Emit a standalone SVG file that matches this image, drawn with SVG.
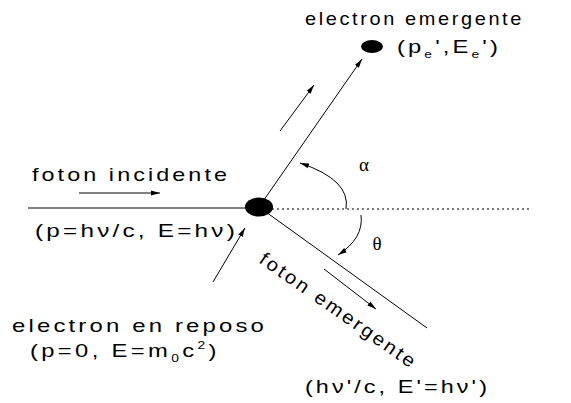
<svg xmlns="http://www.w3.org/2000/svg" width="571" height="403" viewBox="0 0 571 403">
<style>
text{font-family:"Liberation Sans",Arial,sans-serif;font-size:19px;fill:#000}
.sp{letter-spacing:2.5px}
.sym{font-family:"Liberation Serif","DejaVu Serif",serif;font-size:19px}
.ln{stroke:#000;stroke-width:1;fill:none}
.dot{stroke:#000;stroke-width:1;fill:none;stroke-dasharray:2 3}
</style>
<defs>
<marker id="ah" markerUnits="userSpaceOnUse" markerWidth="10" markerHeight="6" refX="9" refY="3" orient="auto">
<path d="M0,0.5 L9,3 L0,5.5 Z" fill="#000"/>
</marker>
</defs>
<rect width="571" height="403" fill="#fff"/>
<g id="connectors">
<line class="ln" x1="28" y1="208" x2="259" y2="208"/>
<line class="dot" x1="272" y1="209" x2="530" y2="209"/>
<line class="ln" x1="259" y1="207" x2="362" y2="59" marker-end="url(#ah)"/>
<line class="ln" x1="259" y1="207" x2="427" y2="328"/>
<line class="ln" x1="79" y1="193" x2="160" y2="193" marker-end="url(#ah)"/>
<line class="ln" x1="280" y1="131" x2="314" y2="85" marker-end="url(#ah)"/>
<line class="ln" x1="213" y1="282" x2="245" y2="228" marker-end="url(#ah)"/>
<line class="ln" x1="324" y1="269" x2="376" y2="309" marker-end="url(#ah)"/>
<path class="ln" d="M346,209 Q351,180 300,163" marker-end="url(#ah)"/>
<path class="ln" d="M361,215 Q364,238 338,255" marker-end="url(#ah)"/>
</g>
<g id="electron-rest">
<ellipse cx="259" cy="207" rx="14" ry="9.5" fill="#000"/>
</g>
<g id="electron-out">
<ellipse cx="372" cy="46.5" rx="11" ry="6.5" fill="#000"/>
</g>
<g id="labels">
<text class="sp" x="305" y="25" textLength="219" lengthAdjust="spacingAndGlyphs">electron emergente</text>
<text class="sp" transform="translate(397,53) scale(1.25,1)" x="0" y="0">(p<tspan font-size="11" dy="5">e</tspan><tspan dy="-5">',E</tspan><tspan font-size="11" dy="5">e</tspan><tspan dy="-5">')</tspan></text>
<text class="sp" x="32" y="181" textLength="198" lengthAdjust="spacingAndGlyphs">foton incidente</text>
<text class="sp" x="35" y="237" textLength="203" lengthAdjust="spacingAndGlyphs">(p=hν/c, E=hν)</text>
<text class="sp" x="12" y="332" textLength="255" lengthAdjust="spacingAndGlyphs">electron en reposo</text>
<text class="sp" transform="translate(30,357) scale(1.25,1)" x="0" y="0" style="letter-spacing:2.7px">(p=0, E=m<tspan font-size="11" dy="5">0</tspan><tspan dy="-5">c</tspan><tspan font-size="11" dy="-8">2</tspan><tspan dy="8">)</tspan></text>
<text class="sp" x="258" y="262" transform="rotate(35 258 262)" textLength="188" lengthAdjust="spacingAndGlyphs">foton emergente</text>
<text class="sp" x="305" y="393" textLength="185" lengthAdjust="spacingAndGlyphs">(hν'/c, E'=hν')</text>
<text class="sym" x="364" y="171" text-anchor="middle">α</text>
<text class="sym" x="377" y="250" text-anchor="middle">θ</text>
</g>
</svg>
